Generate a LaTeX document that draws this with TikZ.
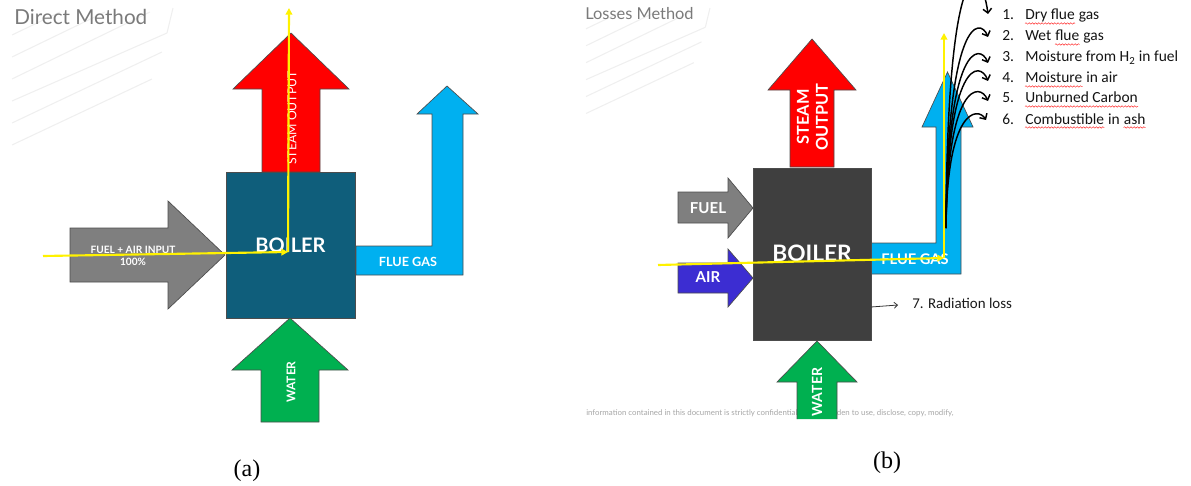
\documentclass[tikz,border=0pt]{standalone}
\usepackage{fontspec}
\setmainfont{Lato}
\newfontfamily\carl{Carlito}
\newfontfamily\tnr{Liberation Serif}
\usetikzlibrary{arrows.meta,decorations.pathmorphing}
\definecolor{steamred}{HTML}{FF0000}
\definecolor{tealboiler}{HTML}{0F5E7B}
\definecolor{darkboiler}{HTML}{3F3F3F}
\definecolor{fuelgray}{HTML}{7F7F7F}
\definecolor{flueblue}{HTML}{00B0F0}
\definecolor{watergreen}{HTML}{00B050}
\definecolor{airblue}{HTML}{3C2DD2}
\definecolor{titlegray}{HTML}{7A7A7A}
\definecolor{faint}{HTML}{EFEFEF}
\tikzset{
  outl/.style={draw=black!70, line width=0.5pt, line join=miter},
  lbl/.style={text=white, inner sep=0pt},
  yel/.style={draw=yellow, line width=1.6pt, -{Triangle[length=5pt,width=5pt]}},
  crv/.style={draw=black, line width=1.1pt, -{Straight Barb[length=3.2pt,width=6.5pt]}},
  bgline/.style={draw=faint, line width=0.8pt},
  item/.style={anchor=base west, inner sep=0pt, font=\carl\fontsize{11.6}{13}\selectfont, text=black!92},
  wavy/.style={draw=red!85, line width=0.35pt, decorate, decoration={snake, amplitude=0.55pt, segment length=2.4pt}},
}
\begin{document}
\begin{tikzpicture}[x=0.75pt,y=-0.75pt]
\useasboundingbox (0,0) rectangle (1191,485);
\clip (0,0) rectangle (1191,485);
% faint background decoration
\foreach \dx/\s in {0/1, 574/0.77}{
  \begin{scope}[shift={(12+\dx,8)}, scale=\s]
    \draw[bgline] (161,0) -- (155,25);
    \draw[bgline] (0,27) -- (48,4);
    \draw[bgline] (0,49) -- (93,4);
    \draw[bgline] (0,71) -- (138,4);
    \draw[bgline] (0,93) -- (155,25);
    \draw[bgline] (0,115) -- (150,44);
    \draw[bgline] (0,137) -- (140,71);
  \end{scope}
}
% ================= LEFT PANEL =================
\node[anchor=west, text=titlegray, font=\fontsize{15.5}{18}\selectfont, inner sep=0pt] (titleA) at (14,17) {Direct Method};
% steam output
\filldraw[outl, fill=steamred] (262,172) -- (262,89) -- (233,89) -- (291,33) -- (349,89) -- (320,89) -- (320,172) -- cycle;
\node[lbl, rotate=90, font=\fontsize{9.2}{11}\selectfont] (steamA) at (292,118) {STEAM OUTPUT};
% boiler
\filldraw[outl, fill=tealboiler] (226,172) rectangle (355,318);
\node[lbl, font=\bfseries\fontsize{15}{18}\selectfont] (boilerA) at (290.5,245) {BOILER};
% fuel + air
\filldraw[outl, fill=fuelgray] (70,228) -- (168,228) -- (168,201) -- (225,255) -- (168,309) -- (168,282) -- (70,282) -- cycle;
\node[lbl, align=center, font=\bfseries\fontsize{7.6}{9}\selectfont] (fuelA) at (133,256) {FUEL + AIR INPUT\\100\%};
% flue gas
\filldraw[outl, fill=flueblue] (356,246) -- (432,246) -- (432,114) -- (417,114) -- (447,86) -- (478,114) -- (463,114) -- (463,275) -- (356,275) -- cycle;
\node[lbl, font=\bfseries\fontsize{9.5}{11}\selectfont] (flueA) at (408,261.5) {FLUE GAS};
% water
\filldraw[outl, fill=watergreen] (261,422) -- (261,370) -- (232,370) -- (290,318) -- (348,370) -- (319,370) -- (319,422) -- cycle;
\node[lbl, rotate=90, font=\bfseries\fontsize{9}{11}\selectfont] (waterA) at (291,382) {WATER};
% yellow lines
\coordinate (ya0) at (43,256);
\coordinate (ya1) at (288,252);
\coordinate (ya2) at (289,8);
\draw[yel] (ya0) -- (ya1);
\draw[yel] (ya1) -- (ya2);
\node[font=\tnr\fontsize{18}{20}\selectfont, inner sep=0pt] (capA) at (247,471) {(a)};
% ================= RIGHT PANEL =================
\node[anchor=west, text=titlegray, font=\fontsize{12.3}{14}\selectfont, inner sep=0pt] (titleB) at (585,14) {Losses Method};
\node[anchor=west, text=black!35, font=\fontsize{5.9}{7}\selectfont, inner sep=0pt] (conf) at (586,413) {information contained in this document is strictly confidential. It is forbidden to use, disclose, copy, modify,};
% steam output
\filldraw[outl, fill=steamred] (790,167) -- (790,90) -- (768,90) -- (812,39) -- (856,90) -- (834,90) -- (834,167) -- cycle;
\node[lbl, rotate=90, align=center, font=\bfseries\fontsize{12.3}{14.3}\selectfont] (steamB) at (812.5,117) {STEAM\\OUTPUT};
% fuel
\filldraw[outl, fill=fuelgray] (678,192) -- (728,192) -- (728,178) -- (753,208) -- (728,238) -- (728,223) -- (678,223) -- cycle;
\node[lbl, font=\bfseries\fontsize{11.3}{13}\selectfont] (fuelB) at (708,208) {FUEL};
% air
\filldraw[outl, fill=airblue] (678,263) -- (728,263) -- (728,249) -- (753,278) -- (728,307) -- (728,293) -- (678,293) -- cycle;
\node[lbl, font=\bfseries\fontsize{11.3}{13}\selectfont] (airB) at (708,277) {AIR};
% flue gas
\filldraw[outl, fill=flueblue] (871,243) -- (936,243) -- (936,127) -- (922,127) -- (947.5,72) -- (973,127) -- (961,127) -- (961,274) -- (871,274) -- cycle;
% boiler
\filldraw[outl, fill=darkboiler] (753,168) rectangle (871,340);
\node[lbl, font=\bfseries\fontsize{17}{20}\selectfont] (boilerB) at (812,253) {BOILER};
\node[lbl, font=\bfseries\fontsize{11}{13}\selectfont] (flueB) at (915,259) {FLUE GAS};
% water
\fill[watergreen] (797,419) -- (797,382) -- (777,382) -- (817,341) -- (857,382) -- (837,382) -- (837,419) -- cycle;
\draw[outl] (797,419) -- (797,382) -- (777,382) -- (817,341) -- (857,382) -- (837,382) -- (837,419);
\node[lbl, rotate=90, font=\bfseries\fontsize{10.5}{12}\selectfont] (waterB) at (817,392) {WATER};
% loss curves
\coordinate (cs) at (946,228);
\foreach \e/\yy/\ex in {14/-45/988, 37/17/988, 63/43/988, 81/60/988, 101/82/988, 120/107/986}{
  \draw[crv] (cs) .. controls (947,\yy) and (\ex-8,\yy) .. (\ex,\e);
}
% yellow lines
\coordinate (yb0) at (658,265);
\coordinate (yb1) at (944,258);
\coordinate (yb2) at (944,33);
\draw[yel] (yb0) -- (yb1);
\draw[yel] (yb1) -- (yb2);
% list of losses
\foreach \n/\b in {1/20, 2/41, 3/62, 4/83, 5/103, 6/124}{
  \node[item] (num\n) at (1002,\b) {\n.};
}
\node[item] (i1a) at (1025,20) {Dry flue};
\node[item] (i1b) at (i1a.base east) {\ gas};
\node[item] (i2a) at (1025,41) {Wet};
\node[item] (i2b) at (i2a.base east) {\ flue};
\node[item] (i2c) at (i2b.base east) {\ gas};
\node[item] (i3a) at (1025,62) {Moisture from H\textsubscript{2} in fuel};
\node[item] (i4a) at (1025,83) {Moisture};
\node[item] (i4b) at (i4a.base east) {\ in air};
\node[item] (i5a) at (1025,103) {Unburned Carbon};
\node[item] (i6a) at (1025,124) {Combustible};
\node[item] (i6b) at (i6a.base east) {\ in};
\node[item] (i6c) at (i6b.base east) {\ ash};
\foreach \w/\s in {i1a/0, i2b/2.6, i4a/0, i5a/0, i6a/0, i6c/2.6}{
  \draw[wavy] ([xshift=\s pt, yshift=-2.6pt]\w.base west) -- ([yshift=-2.6pt]\w.base east);
}
% radiation loss
\coordinate (rad0) at (871,307);
\node[anchor=west, inner sep=0pt, font=\carl\fontsize{11.2}{13}\selectfont, text=black!90] (radtxt) at (912,303) {7. Radiation loss};
\draw[draw=black!80, line width=0.6pt, -{Straight Barb[length=2.5pt,width=4.5pt]}] (rad0) -- (898,305);
\node[font=\tnr\fontsize{18}{20}\selectfont, inner sep=0pt] (capB) at (887,463) {(b)};
\end{tikzpicture}
\end{document}
